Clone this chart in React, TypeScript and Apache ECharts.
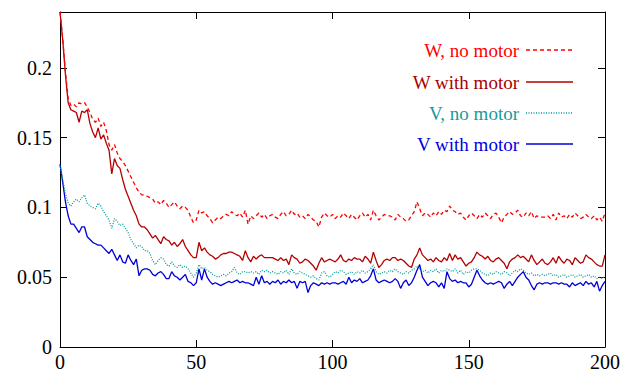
import React, { useEffect, useRef } from "react";
import * as echarts from "echarts";

const xTicks = [0, 50, 100, 150, 200];
const yTicks = [0, 0.05, 0.1, 0.15, 0.2];

const seriesNames = ["W, no motor", "W with motor", "V, no motor", "V with motor"];
const seriesColors = ["#ff0000", "#b40000", "#009c9c", "#0000d8"];
const textColors = ["#ff0000", "#a80000", "#1a9a9a", "#0000e0"];

// W, no motor (x = 0..200)
const wNoMotor = [
  0.240, 0.221, 0.197, 0.178, 0.173, 0.174, 0.172, 0.175, 0.174, 0.175,
  0.172, 0.168, 0.163, 0.161, 0.164, 0.158, 0.161, 0.155, 0.145, 0.141,
  0.145, 0.139, 0.135, 0.133, 0.130, 0.126, 0.122, 0.118, 0.114, 0.111,
  0.109, 0.109, 0.108, 0.107, 0.106, 0.103, 0.104, 0.102, 0.105, 0.103,
  0.100, 0.102, 0.104, 0.101, 0.099, 0.101, 0.100, 0.098, 0.093, 0.089,
  0.091, 0.098, 0.096, 0.097, 0.094, 0.092, 0.089, 0.091, 0.093, 0.092,
  0.094, 0.095, 0.094, 0.097, 0.095, 0.094, 0.096, 0.093, 0.098, 0.088,
  0.094, 0.092, 0.094, 0.096, 0.093, 0.095, 0.092, 0.094, 0.095, 0.093,
  0.092, 0.095, 0.097, 0.094, 0.095, 0.098, 0.095, 0.096, 0.093, 0.094,
  0.092, 0.095, 0.093, 0.091, 0.090, 0.086, 0.093, 0.096, 0.094, 0.093,
  0.095, 0.092, 0.094, 0.093, 0.096, 0.094, 0.092, 0.095, 0.093, 0.091,
  0.094, 0.096, 0.093, 0.095, 0.091, 0.098, 0.094, 0.091, 0.093, 0.095,
  0.094, 0.094, 0.093, 0.091, 0.095, 0.093, 0.092, 0.090, 0.091, 0.094,
  0.097, 0.104, 0.099, 0.094, 0.096, 0.095, 0.093, 0.096, 0.094, 0.097,
  0.095, 0.098, 0.097, 0.101, 0.098, 0.097, 0.095, 0.096, 0.093, 0.091,
  0.094, 0.096, 0.094, 0.092, 0.095, 0.093, 0.096, 0.094, 0.092, 0.095,
  0.096, 0.093, 0.089, 0.093, 0.095, 0.097, 0.095, 0.096, 0.098, 0.094,
  0.093, 0.096, 0.094, 0.097, 0.092, 0.094, 0.093, 0.093, 0.093, 0.094,
  0.092, 0.095, 0.091, 0.096, 0.093, 0.094, 0.092, 0.095, 0.093, 0.096,
  0.094, 0.092, 0.093, 0.095, 0.093, 0.092, 0.094, 0.091, 0.093, 0.090,
  0.096,
];

// W with motor
const wWithMotor = [
  0.240, 0.220, 0.195, 0.175, 0.170, 0.169, 0.168, 0.161, 0.169, 0.168,
  0.170, 0.160, 0.154, 0.150, 0.157, 0.149, 0.152, 0.146, 0.141, 0.124,
  0.135, 0.130, 0.128, 0.120, 0.113, 0.108, 0.103, 0.098, 0.094, 0.088,
  0.086, 0.086, 0.084, 0.081, 0.078, 0.080, 0.077, 0.074, 0.079, 0.077,
  0.076, 0.073, 0.075, 0.072, 0.074, 0.077, 0.072, 0.069, 0.066, 0.064,
  0.064, 0.075, 0.069, 0.071, 0.068, 0.066, 0.065, 0.063, 0.064, 0.066,
  0.067, 0.067, 0.068, 0.068, 0.067, 0.066, 0.065, 0.062, 0.069, 0.064,
  0.061, 0.065, 0.063, 0.065, 0.066, 0.064, 0.064, 0.064, 0.064, 0.063,
  0.062, 0.064, 0.062, 0.063, 0.059, 0.066, 0.064, 0.063, 0.060, 0.061,
  0.063, 0.062, 0.060, 0.058, 0.055, 0.060, 0.064, 0.061, 0.062, 0.063,
  0.062, 0.061, 0.063, 0.066, 0.062, 0.061, 0.063, 0.062, 0.064, 0.063,
  0.063, 0.061, 0.065, 0.063, 0.060, 0.068, 0.062, 0.057, 0.059, 0.062,
  0.063, 0.062, 0.064, 0.064, 0.062, 0.063, 0.062, 0.060, 0.058, 0.057,
  0.063, 0.066, 0.071, 0.066, 0.064, 0.062, 0.063, 0.061, 0.064, 0.062,
  0.061, 0.064, 0.062, 0.067, 0.062, 0.066, 0.063, 0.064, 0.061, 0.058,
  0.060, 0.061, 0.064, 0.068, 0.066, 0.065, 0.063, 0.065, 0.062, 0.061,
  0.063, 0.064, 0.062, 0.060, 0.056, 0.061, 0.063, 0.064, 0.066, 0.064,
  0.065, 0.063, 0.061, 0.066, 0.062, 0.059, 0.061, 0.063, 0.060, 0.059,
  0.061, 0.064, 0.060, 0.065, 0.062, 0.060, 0.063, 0.062, 0.059, 0.064,
  0.062, 0.060, 0.061, 0.066, 0.064, 0.063, 0.061, 0.059, 0.058, 0.058,
  0.066,
];

// V, no motor
const vNoMotor = [
  0.130, 0.120, 0.110, 0.103, 0.101, 0.104, 0.106, 0.104, 0.107, 0.109,
  0.103, 0.101, 0.100, 0.099, 0.103, 0.101, 0.097, 0.094, 0.091, 0.085,
  0.092, 0.090, 0.087, 0.088, 0.085, 0.082, 0.077, 0.074, 0.071, 0.073,
  0.072, 0.069, 0.069, 0.067, 0.062, 0.059, 0.062, 0.064, 0.063, 0.059,
  0.058, 0.061, 0.058, 0.057, 0.059, 0.057, 0.058, 0.056, 0.053, 0.050,
  0.053, 0.059, 0.056, 0.057, 0.055, 0.054, 0.052, 0.051, 0.050, 0.051,
  0.052, 0.051, 0.053, 0.054, 0.057, 0.053, 0.052, 0.054, 0.054, 0.053,
  0.054, 0.053, 0.054, 0.052, 0.055, 0.054, 0.055, 0.053, 0.054, 0.053,
  0.052, 0.054, 0.053, 0.055, 0.052, 0.056, 0.053, 0.052, 0.054, 0.053,
  0.052, 0.051, 0.050, 0.051, 0.049, 0.048, 0.053, 0.054, 0.051, 0.050,
  0.052, 0.054, 0.053, 0.055, 0.054, 0.052, 0.053, 0.054, 0.052, 0.054,
  0.053, 0.055, 0.053, 0.054, 0.056, 0.059, 0.054, 0.052, 0.053, 0.054,
  0.053, 0.055, 0.054, 0.056, 0.054, 0.053, 0.052, 0.054, 0.053, 0.055,
  0.056, 0.058, 0.056, 0.054, 0.055, 0.053, 0.055, 0.054, 0.056, 0.053,
  0.055, 0.054, 0.056, 0.055, 0.054, 0.056, 0.053, 0.055, 0.052, 0.054,
  0.053, 0.055, 0.056, 0.056, 0.055, 0.053, 0.052, 0.051, 0.053, 0.052,
  0.054, 0.053, 0.052, 0.054, 0.053, 0.051, 0.053, 0.055, 0.054, 0.056,
  0.055, 0.053, 0.052, 0.053, 0.051, 0.052, 0.051, 0.052, 0.051, 0.052,
  0.053, 0.051, 0.052, 0.050, 0.051, 0.052, 0.050, 0.051, 0.052, 0.050,
  0.051, 0.052, 0.050, 0.051, 0.052, 0.050, 0.051, 0.049, 0.050, 0.049,
  0.051,
];

// V with motor
const vWithMotor = [
  0.131, 0.118, 0.104, 0.094, 0.088, 0.088, 0.085, 0.082, 0.086, 0.086,
  0.079, 0.077, 0.075, 0.074, 0.073, 0.073, 0.071, 0.069, 0.067, 0.070,
  0.066, 0.062, 0.066, 0.061, 0.060, 0.066, 0.062, 0.059, 0.063, 0.051,
  0.055, 0.056, 0.056, 0.055, 0.052, 0.051, 0.053, 0.054, 0.052, 0.049,
  0.049, 0.054, 0.051, 0.050, 0.048, 0.050, 0.052, 0.047, 0.046, 0.044,
  0.046, 0.056, 0.048, 0.056, 0.050, 0.047, 0.045, 0.046, 0.045, 0.044,
  0.045, 0.046, 0.047, 0.046, 0.047, 0.048, 0.046, 0.047, 0.046, 0.046,
  0.045, 0.044, 0.050, 0.045, 0.051, 0.046, 0.047, 0.045, 0.047, 0.046,
  0.048, 0.045, 0.047, 0.046, 0.048, 0.046, 0.047, 0.042, 0.047, 0.046,
  0.047, 0.039, 0.044, 0.046, 0.045, 0.044, 0.046, 0.045, 0.046, 0.045,
  0.046, 0.046, 0.045, 0.046, 0.047, 0.045, 0.050, 0.046, 0.048, 0.047,
  0.049, 0.046, 0.047, 0.048, 0.051, 0.056, 0.048, 0.046, 0.047, 0.048,
  0.047, 0.046, 0.047, 0.049, 0.047, 0.042, 0.046, 0.048, 0.044, 0.046,
  0.050, 0.055, 0.059, 0.050, 0.047, 0.044, 0.046, 0.047, 0.046, 0.043,
  0.046, 0.042, 0.054, 0.049, 0.047, 0.048, 0.046, 0.047, 0.046, 0.046,
  0.043, 0.045, 0.050, 0.055, 0.051, 0.048, 0.046, 0.045, 0.046, 0.045,
  0.046, 0.047, 0.046, 0.042, 0.045, 0.047, 0.044, 0.047, 0.050, 0.052,
  0.054, 0.050, 0.048, 0.044, 0.041, 0.045, 0.046, 0.045, 0.046, 0.046,
  0.045, 0.046, 0.046, 0.045, 0.046, 0.045, 0.045, 0.043, 0.046, 0.044,
  0.045, 0.046, 0.044, 0.047, 0.045, 0.046, 0.043, 0.047, 0.040, 0.044,
  0.047,
];

const allSeries = [wNoMotor, wWithMotor, vNoMotor, vWithMotor];
const lineDashes: (number[] | "solid")[] = [[4, 3], "solid", [1, 1.5], "solid"];

const FONT = "Liberation Serif, Times New Roman, serif";
const AXIS_FONT_SIZE = 20;
const LEGEND_FONT_SIZE = 19;

export default function App() {
  const ref = useRef<HTMLDivElement>(null);
  useEffect(() => {
    if (!ref.current) return;
    const chart = echarts.init(ref.current, undefined, { renderer: "svg" });
    const fmt = (v: number) => String(+Number(v).toFixed(2));
    const axisLine = { show: true, onZero: false, lineStyle: { color: "#000", width: 1 } };
    const axisTick = { show: true, inside: true, length: 7, lineStyle: { color: "#000", width: 1 } };

    const legendRows = [50, 82, 113, 144];
    const graphics: any[] = [];
    seriesNames.forEach((name, i) => {
      graphics.push({
        type: "text",
        x: 519,
        y: legendRows[i],
        style: {
          text: name,
          fill: textColors[i],
          fontFamily: FONT,
          fontSize: LEGEND_FONT_SIZE,
          textAlign: "right",
          textVerticalAlign: "middle",
        },
      });
      graphics.push({
        type: "line",
        shape: { x1: 526, y1: legendRows[i], x2: 573, y2: legendRows[i] },
        style: {
          stroke: seriesColors[i],
          lineWidth: 1.3,
          lineDash: lineDashes[i] === "solid" ? null : lineDashes[i],
        },
      });
    });

    chart.setOption({
      animation: false,
      textStyle: { fontFamily: FONT, fontSize: AXIS_FONT_SIZE, color: "#000" },
      grid: { left: 60, right: 24, top: 12, bottom: 25, containLabel: false },
      xAxis: [
        {
          type: "value",
          position: "bottom",
          min: xTicks[0],
          max: xTicks[xTicks.length - 1],
          interval: 50,
          axisLine,
          axisTick,
          splitLine: { show: false },
          axisLabel: {
            color: "#000",
            fontFamily: FONT,
            fontSize: AXIS_FONT_SIZE,
            margin: 5,
            formatter: fmt,
          },
        },
        {
          type: "value",
          position: "top",
          min: xTicks[0],
          max: xTicks[xTicks.length - 1],
          interval: 50,
          axisLine,
          axisTick,
          splitLine: { show: false },
          axisLabel: { show: false },
        },
      ],
      yAxis: [
        {
          type: "value",
          position: "left",
          min: yTicks[0],
          max: 0.24,
          interval: 0.05,
          axisLine,
          axisTick,
          splitLine: { show: false },
          axisLabel: {
            color: "#000",
            fontFamily: FONT,
            fontSize: AXIS_FONT_SIZE,
            margin: 8,
            showMaxLabel: false,
            formatter: fmt,
          },
        },
        {
          type: "value",
          position: "right",
          min: yTicks[0],
          max: 0.24,
          interval: 0.05,
          axisLine,
          axisTick,
          splitLine: { show: false },
          axisLabel: { show: false },
        },
      ],
      series: allSeries.map((vals, i) => ({
        name: seriesNames[i],
        type: "line",
        xAxisIndex: 0,
        yAxisIndex: 0,
        showSymbol: false,
        symbol: "none",
        data: vals.map((v, x) => [x, v]),
        lineStyle: {
          color: seriesColors[i],
          width: 1.3,
          type: lineDashes[i] === "solid" ? "solid" : (lineDashes[i] as number[]),
        },
        z: 4 - i,
      })),
      graphic: graphics,
    });
    return () => chart.dispose();
  }, []);
  return (
    <div
      ref={ref}
      style={{ position: "fixed", left: 0, top: 0, width: 629, height: 372, background: "#fff" }}
    />
  );
}
